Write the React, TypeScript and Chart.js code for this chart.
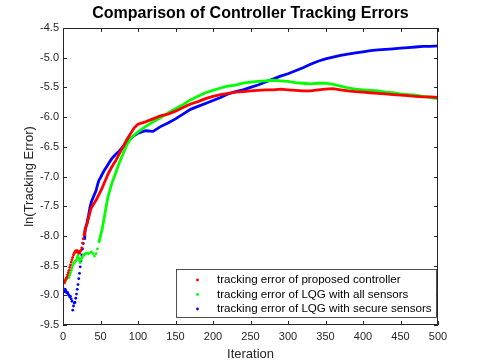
import React, { useEffect, useRef } from "react";
import { Chart, registerables } from "chart.js";

Chart.register(...registerables);

const chartTitle = "Comparison of Controller Tracking Errors";
const xTitle = "Iteration";
const yTitle = "ln(Tracking Error)";
const seriesLabels = [
  "tracking error of proposed controller",
  "tracking error of LQG with all sensors",
  "tracking error of LQG with secure sensors",
];
const seriesColors = ["#ff0000", "#00ff00", "#0000ff"];
// iteration from which each series is drawn as a continuous trace (dots before)
const lineStart = [28, 48, 28];

const iterations = [
  0, 1, 2, 3, 4, 5, 6, 7, 8, 9, 10, 11, 12, 13, 14, 15, 16, 17, 18, 19, 20,
  21, 22, 23, 24, 25, 26, 27, 28, 29, 30, 32, 34, 36, 38, 40, 42, 44, 46, 48,
  50, 52, 54, 56, 58, 60, 65, 70, 75, 80, 85, 90, 95, 100, 110, 120, 130, 140,
  150, 160, 170, 180, 190, 200, 210, 220, 230, 240, 250, 260, 270, 280, 290,
  300, 310, 320, 330, 340, 350, 360, 370, 380, 390, 400, 410, 420, 430, 440,
  450, 460, 470, 480, 490, 500,
];

const proposedErr = [
  -8.8, -8.78, -8.79, -8.75, -8.72, -8.7, -8.66, -8.62, -8.58, -8.53, -8.49,
  -8.44, -8.4, -8.36, -8.32, -8.29, -8.27, -8.25, -8.27, -8.25, -8.28, -8.26,
  -8.29, -8.26, -8.24, -8.2, -8.12, -8.05, -7.98, -7.92, -7.86, -7.8, -7.7,
  -7.6, -7.52, -7.48, -7.44, -7.4, -7.35, -7.3, -7.25, -7.2, -7.14, -7.08,
  -7.02, -6.96, -6.84, -6.74, -6.62, -6.5, -6.38, -6.28, -6.18, -6.12, -6.08,
  -6.03, -5.98, -5.95, -5.9, -5.84, -5.78, -5.74, -5.69, -5.65, -5.62, -5.6,
  -5.58, -5.57, -5.56, -5.55, -5.54, -5.54, -5.53, -5.54, -5.55, -5.56, -5.56,
  -5.54, -5.53, -5.52, -5.54, -5.56, -5.57, -5.58, -5.59, -5.6, -5.61, -5.62,
  -5.63, -5.64, -5.65, -5.66, -5.66, -5.67,
];

const lqgAllErr = [
  -8.8, -8.78, -8.76, -8.77, -8.74, -8.72, -8.7, -8.68, -8.7, -8.66, -8.62,
  -8.58, -8.54, -8.5, -8.47, -8.45, -8.43, -8.42, -8.4, -8.36, -8.33, -8.38,
  -8.42, -8.45, -8.4, -8.37, -8.35, -8.33, -8.32, -8.31, -8.3, -8.29, -8.3,
  -8.28, -8.27, -8.3, -8.34, -8.3, -8.22, -8.1, -8.0, -7.9, -7.76, -7.62,
  -7.48, -7.34, -7.12, -6.95, -6.77, -6.62, -6.47, -6.37, -6.3, -6.25, -6.16,
  -6.08, -6.01, -5.93, -5.86, -5.79, -5.71, -5.65, -5.59, -5.55, -5.51, -5.48,
  -5.46, -5.43, -5.41, -5.4, -5.39, -5.38, -5.39, -5.4, -5.42, -5.43, -5.44,
  -5.43, -5.43, -5.45, -5.48, -5.51, -5.53, -5.54, -5.55, -5.56, -5.58, -5.59,
  -5.61, -5.62, -5.63, -5.65, -5.67, -5.69,
];

const lqgSecureErr = [
  -8.88, -8.92, -8.94, -8.9, -8.93, -8.96, -8.95, -8.98, -9.0, -9.03, -9.02,
  -9.06, -9.1, -9.25, -9.18, -9.13, -9.12, -9.05, -8.98, -8.9, -8.82, -8.72,
  -8.63, -8.52, -8.42, -8.32, -8.22, -8.13, -8.04, -7.95, -7.88, -7.78, -7.66,
  -7.52, -7.42, -7.36, -7.3, -7.24, -7.14, -7.06, -7.02, -6.97, -6.92, -6.88,
  -6.84, -6.8, -6.7, -6.63, -6.57, -6.5, -6.42, -6.36, -6.31, -6.27, -6.23,
  -6.24, -6.16, -6.1, -6.03, -5.95, -5.87, -5.82, -5.77, -5.72, -5.67, -5.61,
  -5.57, -5.54, -5.5, -5.46, -5.41, -5.36, -5.31, -5.27, -5.22, -5.17, -5.11,
  -5.06, -5.02, -4.99, -4.96, -4.94, -4.92, -4.9, -4.88, -4.87, -4.86, -4.85,
  -4.84, -4.83, -4.82, -4.81, -4.81, -4.8,
];

const seriesValues = [proposedErr, lqgAllErr, lqgSecureErr];

const xMin = 0;
const xMax = 500;
const xStep = 50;
const yMin = -9.5;
const yMax = -4.5;
const yStep = 0.5;

const FONT = "'Liberation Sans', Arial, Helvetica, sans-serif";
const AXIS_COLOR = "#262626";

const frameAndLegend = {
  id: "frameAndLegend",
  afterDraw(chart: any) {
    const { ctx, chartArea } = chart;
    const { left, right, top, bottom } = chartArea;
    ctx.save();
    ctx.strokeStyle = AXIS_COLOR;
    ctx.lineWidth = 1;
    ctx.beginPath();
    ctx.rect(left + 0.5, top + 0.5, right - left - 1, bottom - top - 1);
    ctx.stroke();
    const tl = 4;
    const xs = chart.scales.x;
    const ys = chart.scales.y;
    ctx.beginPath();
    xs.ticks.forEach((t: any) => {
      const px = Math.round(xs.getPixelForValue(t.value)) + 0.5;
      ctx.moveTo(px, bottom);
      ctx.lineTo(px, bottom - tl);
      ctx.moveTo(px, top);
      ctx.lineTo(px, top + tl);
    });
    ys.ticks.forEach((t: any) => {
      const py = Math.round(ys.getPixelForValue(t.value)) + 0.5;
      ctx.moveTo(left, py);
      ctx.lineTo(left + tl, py);
      ctx.moveTo(right, py);
      ctx.lineTo(right - tl, py);
    });
    ctx.stroke();

    // legend box
    const bx = 176.5;
    const by = 269.5;
    const bw = 260;
    const bh = 48;
    ctx.fillStyle = "#ffffff";
    ctx.fillRect(bx, by, bw, bh);
    ctx.lineWidth = 0.8;
    ctx.strokeRect(bx, by, bw, bh);
    ctx.font = `11.6px ${FONT}`;
    ctx.textBaseline = "middle";
    ctx.textAlign = "left";
    const rowY = [280, 294.5, 309];
    chart.data.datasets.forEach((ds: any, i: number) => {
      ctx.fillStyle = ds.borderColor;
      ctx.beginPath();
      ctx.arc(197.5, rowY[i], 1.4, 0, Math.PI * 2);
      ctx.fill();
      ctx.fillStyle = "#000000";
      ctx.fillText(ds.label, 217, rowY[i]);
    });
    ctx.restore();
  },
};

export default function App() {
  const canvasRef = useRef<HTMLCanvasElement | null>(null);

  useEffect(() => {
    if (!canvasRef.current) return;
    const datasets = seriesValues.map((vals, i) => {
      const start = lineStart[i];
      const color = seriesColors[i];
      return {
        label: seriesLabels[i],
        data: iterations.map((it, k) => ({ x: it, y: vals[k] })),
        borderColor: color,
        backgroundColor: color,
        showLine: true,
        borderWidth: 2.8,
        tension: 0,
        pointRadius: (c: any) => (c.raw && c.raw.x <= start ? 1.4 : 0),
        pointBorderWidth: 0,
        pointBackgroundColor: color,
        segment: {
          borderColor: (c: any) =>
            c.p0.parsed.x >= start ? color : "rgba(0,0,0,0)",
        },
      };
    });

    const chart = new Chart(canvasRef.current, {
      type: "scatter",
      data: { datasets },
      options: {
        responsive: false,
        animation: false,
        events: [],
        layout: { padding: { left: 0, right: 47, top: 0, bottom: 0 } },
        plugins: {
          legend: { display: false },
          tooltip: { enabled: false },
          title: {
            display: true,
            text: chartTitle,
            fullSize: false,
            color: "#000000",
            font: { family: FONT, size: 16, weight: "bold", lineHeight: 1.2 },
            padding: { top: 4, bottom: 4.8 },
          },
        },
        scales: {
          x: {
            type: "linear",
            min: xMin,
            max: xMax,
            grid: { display: false, drawTicks: false },
            border: { display: false },
            ticks: {
              stepSize: xStep,
              color: AXIS_COLOR,
              font: { family: FONT, size: 11 },
              padding: 5,
              maxRotation: 0,
            },
            title: {
              display: true,
              text: xTitle,
              color: AXIS_COLOR,
              font: { family: FONT, size: 13, lineHeight: 1.2 },
              padding: { top: 0, bottom: 1.2 },
            },
            afterFit: (s: any) => {
              s.height = 38;
            },
          },
          y: {
            type: "linear",
            min: yMin,
            max: yMax,
            grid: { display: false, drawTicks: false },
            border: { display: false },
            ticks: {
              stepSize: yStep,
              color: AXIS_COLOR,
              font: { family: FONT, size: 11 },
              padding: 4,
            },
            title: {
              display: true,
              text: yTitle,
              color: AXIS_COLOR,
              font: { family: FONT, size: 13, lineHeight: 1.2 },
              padding: { top: 22, bottom: 0 },
            },
            afterFit: (s: any) => {
              s.width = 63;
            },
          },
        },
      },
      plugins: [frameAndLegend],
    });
    return () => chart.destroy();
  }, []);

  return (
    <div
      style={{
        position: "fixed",
        left: 0,
        top: 0,
        width: 485,
        height: 363,
        background: "#ffffff",
      }}
    >
      <canvas ref={canvasRef} width={485} height={363} />
    </div>
  );
}
